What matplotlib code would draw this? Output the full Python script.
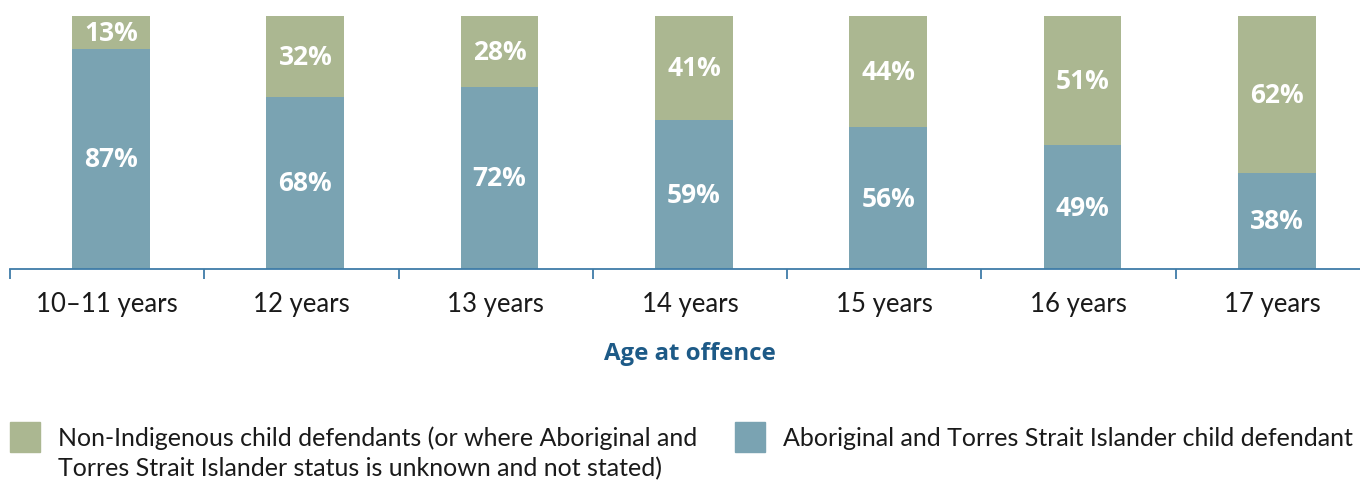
import matplotlib
matplotlib.use('Agg')
import matplotlib.pyplot as plt
from matplotlib.patches import Rectangle

# Share of child defendants by age at offence (%)
ages = ['10\u201311 years', '12 years', '13 years', '14 years',
        '15 years', '16 years', '17 years']
indigenous = [87, 68, 72, 59, 56, 49, 38]
non_indigenous = [13, 32, 28, 41, 44, 51, 62]

teal = '#7aa3b2'
olive = '#abb791'
axis_blue = '#3f7ca8'
title_blue = '#1d5a87'
ink = '#1a1a1a'

plt.rcParams['font.family'] = ['Open Sans', 'DejaVu Sans']
light = ['Lato', 'DejaVu Sans']

W, H = 1360, 481
fig = plt.figure(figsize=(W / 100, H / 100), dpi=100)
# axes spans x 10..1370 px, y 17..270 px (from top)
ax = fig.add_axes([10 / W, 1 - 270 / H, 1360 / W, 253 / H])

x = list(range(len(ages)))
xb = [i + 0.02 for i in x]
bw = 0.4
ax.bar(xb, indigenous, width=bw, color=teal)
ax.bar(xb, non_indigenous, width=bw, bottom=indigenous, color=olive)

for i in x:
    ax.text(xb[i], indigenous[i] / 2, f'{indigenous[i]}%', ha='center', va='center',
            color='white', fontsize=19, fontweight='bold')
    ax.text(xb[i], indigenous[i] + non_indigenous[i] / 2, f'{non_indigenous[i]}%',
            ha='center', va='center', color='white', fontsize=19, fontweight='bold')

ax.set_xlim(-0.5, 6.5)
ax.set_ylim(0, 100)
ax.set_yticks([])
for s in ['top', 'right', 'left']:
    ax.spines[s].set_visible(False)
ax.spines['bottom'].set_color(axis_blue)
ax.spines['bottom'].set_linewidth(1.3)

# category boundaries get the tick marks, labels sit at centres
ax.set_xticks([i - 0.5 for i in x], minor=False)
ax.set_xticklabels([])
ax.tick_params(axis='x', which='major', length=7, width=1.3, color=axis_blue)
ax.set_xticks(x, minor=True)
ax.set_xticklabels(ages, minor=True, fontsize=18.5, color=ink, family=light)
ax.tick_params(axis='x', which='minor', length=0, pad=16)

fig.text(690 / W, 1 - 354 / H, 'Age at offence', ha='center', va='center',
         fontsize=17.3, fontweight='bold', color=title_blue)

# legend drawn by hand: two swatches with wrapped labels
for px, col in [(10, olive), (735, teal)]:
    fig.patches.append(Rectangle((px / W, 1 - 453 / H), 30 / W, 30 / H,
                                 transform=fig.transFigure, color=col))
lg = dict(ha='left', va='center', fontsize=18, color=ink, family=light)
fig.text(58 / W, 1 - 438 / H,
         'Non-Indigenous child defendants (or where Aboriginal and', **lg)
fig.text(58 / W, 1 - 469 / H,
         'Torres Strait Islander status is unknown and not stated)', **lg)
fig.text(783 / W, 1 - 438 / H,
         'Aboriginal and Torres Strait Islander child defendant', **lg)

fig.savefig('out.png', dpi=100)
